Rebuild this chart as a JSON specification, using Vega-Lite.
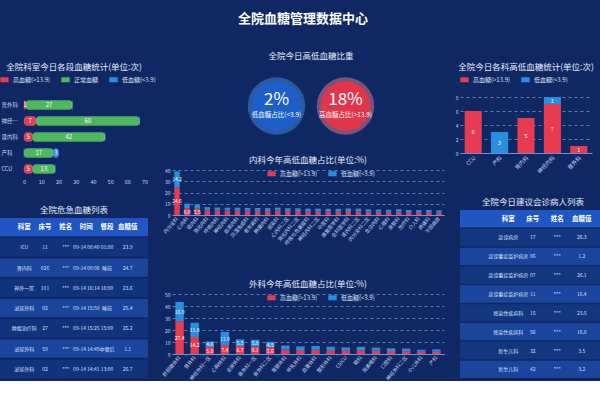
{
  "$schema": "https://vega.github.io/schema/vega-lite/v6.json",
  "background": "#0f2863",
  "padding": {"left": 0, "right": 0, "top": 12, "bottom": 0},
  "title": {"text": "全院血糖管理数据中心", "fontSize": 13, "fontWeight": "bold", "color": "#ffffff", "anchor": "middle", "offset": 26},
  "config": {
    "font": "Noto Sans CJK SC",
    "view": {"stroke": null},
    "axis": {"labelColor": "#c9d6f5", "labelFontSize": 6, "domainColor": "#6d8fd8", "tickColor": "#6d8fd8", "gridColor": "#9fb6ea", "gridDash": [3, 3], "gridOpacity": 0.6, "tickSize": 3, "labelPadding": 2},
    "legend": {"orient": "top", "labelColor": "#d9e2f8", "labelFontSize": 6, "symbolType": "M-1,-0.6H1V0.6H-1Z", "symbolSize": 70, "padding": 0, "offset": 4, "columnPadding": 10, "symbolStrokeWidth": 0, "direction": "horizontal"},
    "title": {"color": "#e6ecfb", "fontSize": 8.5, "fontWeight": "normal", "offset": 4, "anchor": "middle"}
  },
  "resolve": {"scale": {"color": "independent"}, "legend": {"color": "independent"}},
  "spacing": 5,
  "hconcat": [
    {
      "spacing": 20,
      "resolve": {"scale": {"color": "independent"}, "legend": {"color": "independent"}},
      "vconcat": [
        {
          "title": {"text": "全院科室今日各段血糖统计(单位:次)", "offset": 4},
          "width": 148, "height": 80,
          "data": {"values": [
            {"科室": "普外科", "高血糖": 1, "正常血糖": 27, "低血糖": 0},
            {"科室": "神经内科", "高血糖": 7, "正常血糖": 60, "低血糖": 0},
            {"科室": "肾内科", "高血糖": 5, "正常血糖": 42, "低血糖": 0},
            {"科室": "产科", "高血糖": 0, "正常血糖": 17, "低血糖": 3},
            {"科室": "CCU", "高血糖": 5, "正常血糖": 13, "低血糖": 0}
          ]},
          "transform": [
            {"fold": ["高血糖", "正常血糖", "低血糖"], "as": ["类型", "次数"]},
            {"stack": "次数", "groupby": ["科室"], "sort": [{"field": "类型", "order": "descending"}], "as": ["起", "止"]},
            {"calculate": "(datum['起'] + datum['止']) / 2", "as": "中"}
          ],
          "encoding": {"y": {"field": "科室", "type": "nominal", "sort": ["普外科", "神经内科", "肾内科", "产科", "CCU"], "title": null, "axis": {"ticks": false, "domain": false, "labelFontSize": 5.5, "labelAlign": "left", "labelPadding": -1, "labelLimit": 22}}},
          "layer": [
            {
              "mark": {"type": "bar", "height": {"band": 0.62}, "cornerRadius": 3, "stroke": "#ffffff", "strokeOpacity": 0.3, "strokeWidth": 0.5},
              "encoding": {
                "x": {"field": "起", "type": "quantitative", "scale": {"domain": [-14, 72], "nice": false, "zero": false}, "title": null, "axis": {"values": [0, 10, 20, 30, 40, 50, 60, 70], "grid": false, "domain": false, "ticks": false, "labelOverlap": false, "labelFontSize": 5.5}},
                "x2": {"field": "止"},
                "color": {"field": "类型", "type": "nominal", "scale": {"domain": ["高血糖", "正常血糖", "低血糖"], "range": ["#e63b50", "#4cba5c", "#2a8ee0"]}, "legend": {"title": null, "offset": 14, "labelExpr": "datum.label == '高血糖' ? '高血糖(>13.9)' : (datum.label == '低血糖' ? '低血糖(<3.9)' : datum.label)"}}
              }
            },
            {
              "transform": [{"filter": "datum['次数'] > 0"}],
              "mark": {"type": "text", "fontSize": 6, "color": "#ffffff"},
              "encoding": {
                "x": {"field": "中", "type": "quantitative", "scale": {"domain": [-14, 72], "nice": false, "zero": false}, "title": null, "axis": {"values": [0, 10, 20, 30, 40, 50, 60, 70], "grid": false, "domain": false, "ticks": false, "labelOverlap": false, "labelFontSize": 5.5}},
                "text": {"field": "次数"}
              }
            }
          ]
        },
        {
          "title": "全院危急血糖列表",
          "width": 148, "height": 160,
          "data": {"values": [
            {"行": 0, "科室": "科室", "床号": "床号", "姓名": "姓名", "时间": "时间", "餐段": "餐段", "血糖值": "血糖值"},
            {"行": 1, "科室": "ICU", "床号": "11", "姓名": "***", "时间": "09-14 00:40", "餐段": "01:00", "血糖值": "23.9"},
            {"行": 2, "科室": "肾内科", "床号": "026", "姓名": "***", "时间": "09-14 00:06", "餐段": "睡前", "血糖值": "24.7"},
            {"行": 3, "科室": "神外一区", "床号": "101", "姓名": "***", "时间": "09-14 16:14", "餐段": "16:00", "血糖值": "23.6"},
            {"行": 4, "科室": "泌尿外科", "床号": "02", "姓名": "***", "时间": "09-14 15:59", "餐段": "睡前", "血糖值": "25.4"},
            {"行": 5, "科室": "肿瘤治疗科", "床号": "27", "姓名": "***", "时间": "09-14 15:25", "餐段": "15:00", "血糖值": "25.2"},
            {"行": 6, "科室": "泌尿外科", "床号": "59", "姓名": "***", "时间": "09-14 14:45", "餐段": "中餐后", "血糖值": "1.1"},
            {"行": 7, "科室": "泌尿外科", "床号": "02", "姓名": "***", "时间": "09-14 14:41", "餐段": "13:00", "血糖值": "26.7"}
          ]},
          "encoding": {"y": {"field": "行", "type": "ordinal", "axis": null, "scale": {"paddingInner": 0.1, "paddingOuter": 0}}},
          "layer": [
            {
              "mark": {"type": "rect"},
              "encoding": {"color": {"field": "行", "type": "ordinal", "scale": {"range": ["#1f56c4", "#12327c", "#1b449c", "#12327c", "#1b449c", "#12327c", "#1b449c", "#12327c"]}, "legend": null}}
            },
            {
              "transform": [{"filter": "datum['行'] == 0"}, {"fold": ["科室", "床号", "姓名", "时间", "餐段", "血糖值"], "as": ["列", "值"]}],
              "mark": {"type": "text", "fontSize": 6.5, "fontWeight": "bold", "color": "#ffffff"},
              "encoding": {"x": {"field": "列", "type": "nominal", "sort": ["科室", "床号", "姓名", "时间", "餐段", "血糖值"], "axis": null, "scale": {"type": "point", "range": [14, 138]}}, "text": {"field": "值"}}
            },
            {
              "transform": [{"filter": "datum['行'] > 0"}, {"fold": ["科室", "床号", "姓名", "时间", "餐段", "血糖值"], "as": ["列", "值"]}],
              "mark": {"type": "text", "fontSize": 5, "color": "#d5e0fa"},
              "encoding": {"x": {"field": "列", "type": "nominal", "sort": ["科室", "床号", "姓名", "时间", "餐段", "血糖值"], "axis": null, "scale": {"type": "point", "range": [14, 138]}}, "text": {"field": "值"}}
            }
          ]
        }
      ]
    },
    {
      "spacing": 20,
      "resolve": {"scale": {"color": "independent"}, "legend": {"color": "independent"}},
      "vconcat": [
        {
          "title": {"text": "全院今日高低血糖比重", "offset": 17},
          "width": 278, "height": 18,
          "data": {"values": [
            {"指标": "低血糖占比(<3.9)", "占比": "2%", "类型": "低血糖"},
            {"指标": "高血糖占比(>13.9)", "占比": "18%", "类型": "高血糖"}
          ]},
          "encoding": {"x": {"field": "指标", "type": "nominal", "sort": null, "axis": null, "scale": {"type": "point", "range": [70, 208]}}},
          "layer": [
            {
              "mark": {"type": "circle", "size": 3300, "opacity": 0.45},
              "encoding": {"color": {"condition": {"test": "datum['类型'] == '低血糖'", "value": "#4a96f0"}, "value": "#ff8494"}}
            },
            {
              "mark": {"type": "circle", "size": 2450, "opacity": 1},
              "encoding": {"color": {"condition": {"test": "datum['类型'] == '低血糖'", "value": "#1d5fc8"}, "value": "#e2354a"}}
            },
            {
              "mark": {"type": "text", "fontSize": 17, "color": "#ffffff", "dy": -6},
              "encoding": {"text": {"field": "占比"}}
            },
            {
              "mark": {"type": "text", "fontSize": 6.5, "color": "#ffffff", "dy": 9},
              "encoding": {"text": {"field": "指标"}}
            }
          ]
        },
        {
          "spacing": 33,
          "resolve": {"scale": {"color": "independent"}, "legend": {"color": "independent"}},
          "vconcat": [
            {
              "title": "内科今年高低血糖占比(单位:%)",
              "width": 272, "height": 45,
              "data": {"values": [
                {"科室": "内分泌科", "高血糖": 24.6, "低血糖": 14.2},
                {"科室": "心内科", "高血糖": 6.0, "低血糖": 4.1},
                {"科室": "肾内科", "高血糖": 5.5, "低血糖": 3.8},
                {"科室": "消化内科", "高血糖": 4.2, "低血糖": 2.8},
                {"科室": "呼吸内科", "高血糖": 4.0, "低血糖": 2.7},
                {"科室": "神经内科", "高血糖": 3.9, "低血糖": 2.6},
                {"科室": "血液内科", "高血糖": 3.8, "低血糖": 2.6},
                {"科室": "风湿免疫科", "高血糖": 3.8, "低血糖": 2.5},
                {"科室": "老年病科", "高血糖": 3.7, "低血糖": 2.5},
                {"科室": "肿瘤内科", "高血糖": 3.6, "低血糖": 2.5},
                {"科室": "感染科", "高血糖": 3.8, "低血糖": 2.8},
                {"科室": "心内科二区", "高血糖": 3.6, "低血糖": 2.4},
                {"科室": "消化内科二区", "高血糖": 3.5, "低血糖": 2.4},
                {"科室": "呼吸与危重症科", "高血糖": 3.4, "低血糖": 2.3},
                {"科室": "神经内科二区", "高血糖": 3.4, "低血糖": 2.3},
                {"科室": "中医科", "高血糖": 3.3, "低血糖": 2.2},
                {"科室": "康复医学科", "高血糖": 3.3, "低血糖": 2.2},
                {"科室": "全科医学科", "高血糖": 3.5, "低血糖": 2.4},
                {"科室": "肾内科二区", "高血糖": 3.4, "低血糖": 2.3},
                {"科室": "内分泌科二区", "高血糖": 3.0, "低血糖": 2.0},
                {"科室": "急诊内科", "高血糖": 2.9, "低血糖": 2.0},
                {"科室": "心理科", "高血糖": 2.8, "低血糖": 1.9},
                {"科室": "皮肤科", "高血糖": 3.0, "低血糖": 2.2},
                {"科室": "放疗科", "高血糖": 2.6, "低血糖": 1.8},
                {"科室": "介入科", "高血糖": 2.5, "低血糖": 1.8},
                {"科室": "疼痛科", "高血糖": 2.6, "低血糖": 1.9},
                {"科室": "干部病房", "高血糖": 2.4, "低血糖": 1.7}
              ]},
              "transform": [
                {"fold": ["高血糖", "低血糖"], "as": ["类型", "占比"]},
                {"stack": "占比", "groupby": ["科室"], "sort": [{"field": "类型", "order": "descending"}], "as": ["起", "止"]},
                {"calculate": "(datum['起'] + datum['止']) / 2", "as": "中"}
              ],
              "encoding": {"x": {"field": "科室", "type": "nominal", "sort": null, "title": null, "axis": {"labelAngle": -50, "labelFontSize": 5, "ticks": false, "domainColor": "#6d8fd8"}}},
              "layer": [
                {
                  "mark": {"type": "bar", "width": {"band": 0.6}},
                  "encoding": {
                    "y": {"field": "起", "type": "quantitative", "scale": {"domain": [0, 40]}, "title": null, "axis": {"values": [0, 10, 20, 30, 40], "grid": true, "domain": false, "ticks": false, "labelFontSize": 5}},
                    "y2": {"field": "止"},
                    "color": {"field": "类型", "type": "nominal", "scale": {"domain": ["高血糖", "低血糖"], "range": ["#e63b50", "#2a8ee0"]}, "legend": {"title": null, "orient": "none", "legendX": 95, "legendY": -1, "labelExpr": "datum.label == '高血糖' ? '高血糖(>13.9)' : '低血糖(<3.9)'"}}
                  }
                },
                {
                  "transform": [{"filter": "datum['占比'] >= 5"}],
                  "mark": {"type": "text", "fontSize": 5, "color": "#ffffff"},
                  "encoding": {
                    "y": {"field": "中", "type": "quantitative", "scale": {"domain": [0, 40]}, "title": null, "axis": {"values": [0, 10, 20, 30, 40], "grid": true, "domain": false, "ticks": false, "labelFontSize": 5}},
                    "text": {"field": "占比", "format": ".1f"}
                  }
                }
              ]
            },
            {
              "title": "外科今年高低血糖占比(单位:%)",
              "width": 272, "height": 60,
              "data": {"values": [
                {"科室": "肝胆胰外科", "高血糖": 27.4, "低血糖": 16.0},
                {"科室": "普外科", "高血糖": 14.2, "低血糖": 11.8},
                {"科室": "神经外科一区", "高血糖": 5.8, "低血糖": 4.6},
                {"科室": "心胸外科", "高血糖": 7.4, "低血糖": 11.0},
                {"科室": "泌尿外科", "高血糖": 6.7, "低血糖": 5.5},
                {"科室": "骨外科一区", "高血糖": 6.1, "低血糖": 5.8},
                {"科室": "骨外科二区", "高血糖": 5.6, "低血糖": 4.5},
                {"科室": "胃肠外科", "高血糖": 3.7, "低血糖": 3.3},
                {"科室": "甲乳外科", "高血糖": 3.3, "低血糖": 3.0},
                {"科室": "血管外科", "高血糖": 3.5, "低血糖": 3.2},
                {"科室": "整形外科", "高血糖": 3.2, "低血糖": 2.9},
                {"科室": "CSICU", "高血糖": 3.0, "低血糖": 2.5},
                {"科室": "眼科", "高血糖": 3.2, "低血糖": 2.8},
                {"科室": "耳鼻喉科", "高血糖": 2.8, "低血糖": 2.5},
                {"科室": "口腔科", "高血糖": 2.5, "低血糖": 2.3},
                {"科室": "神经外科二区", "高血糖": 2.3, "低血糖": 2.2},
                {"科室": "小儿外科", "高血糖": 2.0, "低血糖": 1.5},
                {"科室": "产科", "高血糖": 2.0, "低血糖": 1.8}
              ]},
              "transform": [
                {"fold": ["高血糖", "低血糖"], "as": ["类型", "占比"]},
                {"stack": "占比", "groupby": ["科室"], "sort": [{"field": "类型", "order": "descending"}], "as": ["起", "止"]},
                {"calculate": "(datum['起'] + datum['止']) / 2", "as": "中"}
              ],
              "encoding": {"x": {"field": "科室", "type": "nominal", "sort": null, "title": null, "axis": {"labelAngle": -50, "labelFontSize": 5, "ticks": false, "domainColor": "#6d8fd8"}}},
              "layer": [
                {
                  "mark": {"type": "bar", "width": {"band": 0.62}},
                  "encoding": {
                    "y": {"field": "起", "type": "quantitative", "scale": {"domain": [0, 50]}, "title": null, "axis": {"values": [0, 10, 20, 30, 40, 50], "grid": true, "domain": false, "ticks": false, "labelFontSize": 5}},
                    "y2": {"field": "止"},
                    "color": {"field": "类型", "type": "nominal", "scale": {"domain": ["高血糖", "低血糖"], "range": ["#e63b50", "#2a8ee0"]}, "legend": {"title": null, "orient": "none", "legendX": 95, "legendY": -1, "labelExpr": "datum.label == '高血糖' ? '高血糖(>13.9)' : '低血糖(<3.9)'"}}
                  }
                },
                {
                  "transform": [{"filter": "datum['占比'] >= 4.5"}],
                  "mark": {"type": "text", "fontSize": 5, "color": "#ffffff"},
                  "encoding": {
                    "y": {"field": "中", "type": "quantitative", "scale": {"domain": [0, 50]}, "title": null, "axis": {"values": [0, 10, 20, 30, 40, 50], "grid": true, "domain": false, "ticks": false, "labelFontSize": 5}},
                    "text": {"field": "占比", "format": ".1f"}
                  }
                }
              ]
            }
          ]
        }
      ]
    },
    {
      "spacing": 22,
      "resolve": {"scale": {"color": "independent"}, "legend": {"color": "independent"}},
      "vconcat": [
        {
          "title": {"text": "全院今日各科高低血糖统计(单位:次)", "offset": 4},
          "width": 132, "height": 56,
          "data": {"values": [
            {"科室": "CCU", "高血糖": 6, "低血糖": 0},
            {"科室": "产科", "高血糖": 0, "低血糖": 3},
            {"科室": "肾内科", "高血糖": 5, "低血糖": 0},
            {"科室": "神经内科", "高血糖": 7, "低血糖": 1},
            {"科室": "普外科", "高血糖": 1, "低血糖": 0}
          ]},
          "transform": [
            {"fold": ["高血糖", "低血糖"], "as": ["类型", "次数"]},
            {"stack": "次数", "groupby": ["科室"], "sort": [{"field": "类型", "order": "descending"}], "as": ["起", "止"]},
            {"calculate": "(datum['起'] + datum['止']) / 2", "as": "中"}
          ],
          "encoding": {"x": {"field": "科室", "type": "nominal", "sort": null, "title": null, "axis": {"labelAngle": -45, "labelFontSize": 5.5, "ticks": false, "domainColor": "#6d8fd8"}}},
          "layer": [
            {
              "mark": {"type": "bar", "width": {"band": 0.72}},
              "encoding": {
                "y": {"field": "起", "type": "quantitative", "scale": {"domain": [0, 8]}, "title": null, "axis": {"values": [0, 2, 4, 6, 8], "grid": true, "domain": false, "ticks": false, "labelFontSize": 5}},
                "y2": {"field": "止"},
                "color": {"field": "类型", "type": "nominal", "scale": {"domain": ["高血糖", "低血糖"], "range": ["#e63b50", "#2a8ee0"]}, "legend": {"title": null, "offset": 14, "labelExpr": "datum.label == '高血糖' ? '高血糖(>13.9)' : '低血糖(<3.9)'"}}
              }
            },
            {
              "transform": [{"filter": "datum['次数'] > 0"}],
              "mark": {"type": "text", "fontSize": 5.5, "color": "#ffffff"},
              "encoding": {
                "y": {"field": "中", "type": "quantitative", "scale": {"domain": [0, 8]}, "title": null, "axis": {"values": [0, 2, 4, 6, 8], "grid": true, "domain": false, "ticks": false, "labelFontSize": 5}},
                "text": {"field": "次数"}
              }
            }
          ]
        },
        {
          "title": "全院今日建议会诊病人列表",
          "width": 146, "height": 168,
          "data": {"values": [
            {"行": 0, "科室": "科室", "床号": "床号", "姓名": "姓名", "血糖值": "血糖值"},
            {"行": 1, "科室": "急诊病房", "床号": "17", "姓名": "***", "血糖值": "26.3"},
            {"行": 2, "科室": "急诊重症监护病房", "床号": "06", "姓名": "***", "血糖值": "1.2"},
            {"行": 3, "科室": "急诊重症监护病房", "床号": "07", "姓名": "***", "血糖值": "26.1"},
            {"行": 4, "科室": "急诊重症监护病房", "床号": "11", "姓名": "***", "血糖值": "16.4"},
            {"行": 5, "科室": "感染性疾病科", "床号": "15", "姓名": "***", "血糖值": "23.5"},
            {"行": 6, "科室": "感染性疾病科", "床号": "56", "姓名": "***", "血糖值": "16.8"},
            {"行": 7, "科室": "新生儿科", "床号": "32", "姓名": "***", "血糖值": "3.5"},
            {"行": 8, "科室": "新生儿科", "床号": "42", "姓名": "***", "血糖值": "3.2"}
          ]},
          "encoding": {"y": {"field": "行", "type": "ordinal", "axis": null, "scale": {"paddingInner": 0.08, "paddingOuter": 0}}},
          "layer": [
            {
              "mark": {"type": "rect"},
              "encoding": {"color": {"field": "行", "type": "ordinal", "scale": {"range": ["#1f56c4", "#14367f", "#1b449c", "#14367f", "#1b449c", "#14367f", "#1b449c", "#14367f", "#1b449c"]}, "legend": null}}
            },
            {
              "transform": [{"filter": "datum['行'] == 0"}, {"fold": ["科室", "床号", "姓名", "血糖值"], "as": ["列", "值"]}],
              "mark": {"type": "text", "fontSize": 6.5, "fontWeight": "bold", "color": "#ffffff"},
              "encoding": {"x": {"field": "列", "type": "nominal", "sort": ["科室", "床号", "姓名", "血糖值"], "axis": null, "scale": {"type": "point", "range": [36, 134]}}, "text": {"field": "值"}}
            },
            {
              "transform": [{"filter": "datum['行'] > 0"}, {"fold": ["科室", "床号", "姓名", "血糖值"], "as": ["列", "值"]}],
              "mark": {"type": "text", "fontSize": 5, "color": "#d5e0fa"},
              "encoding": {"x": {"field": "列", "type": "nominal", "sort": ["科室", "床号", "姓名", "血糖值"], "axis": null, "scale": {"type": "point", "range": [36, 134]}}, "text": {"field": "值"}}
            }
          ]
        }
      ]
    }
  ]
}
